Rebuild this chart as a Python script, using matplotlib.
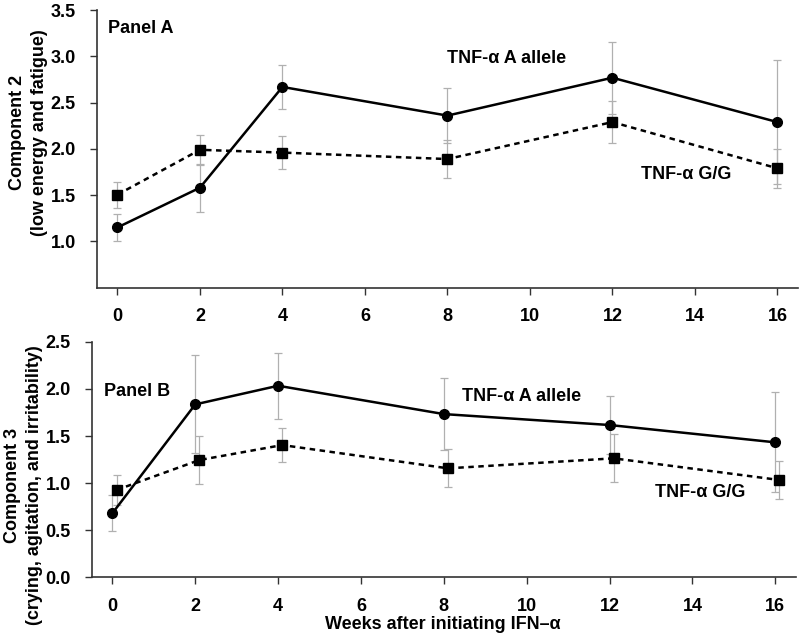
import matplotlib
matplotlib.use("Agg")
import matplotlib.pyplot as plt
import numpy as np

plt.rcParams['font.family'] = ['Liberation Sans', 'DejaVu Sans']
plt.rcParams['font.weight'] = 'bold'

weeks = [0, 2, 4, 8, 12, 16]
xticks = [0, 2, 4, 6, 8, 10, 12, 14, 16]

# Panel A: Component 2 (low energy and fatigue)
a_allele_A = [1.15, 1.58, 2.67, 2.36, 2.77, 2.29]
a_allele_A_err = [0.15, 0.26, 0.235, 0.30, 0.39, 0.67]
gg_A = [1.505, 1.99, 1.96, 1.89, 2.29, 1.79]
gg_A_err = [0.14, 0.16, 0.18, 0.21, 0.23, 0.21]

# Panel B: Component 3 (crying, agitation, and irritability)
a_allele_B = [0.68, 1.836, 2.034, 1.733, 1.617, 1.433]
a_allele_B_err = [0.19, 0.52, 0.35, 0.38, 0.31, 0.53]
gg_B = [0.927, 1.245, 1.404, 1.157, 1.263, 1.033]
gg_B_err = [0.155, 0.25, 0.18, 0.20, 0.255, 0.205]

fig = plt.figure(figsize=(8.0, 6.39), dpi=100)
axA = fig.add_axes([0.121, 0.550, 0.8765, 0.434])
axB = fig.add_axes([0.1146, 0.0966, 0.8804, 0.3684])

spine_col = '#333333'
err_col = '#b0b0b0'

def style(ax, ylim, yticks):
    ax.set_xlim(-0.5, 16.5)
    ax.set_ylim(*ylim)
    ax.set_xticks(xticks)
    ax.set_yticks(yticks)
    ax.set_yticklabels([f"{v:.1f}" for v in yticks])
    for s in ['top', 'right']:
        ax.spines[s].set_visible(False)
    for s in ['left', 'bottom']:
        ax.spines[s].set_color(spine_col)
        ax.spines[s].set_linewidth(1.2)
    ax.tick_params(axis='both', direction='out', length=5, width=1.0,
                   colors=spine_col, labelcolor='black', labelsize=13, pad=10)
    for lab in ax.get_xticklabels() + ax.get_yticklabels():
        lab.set_fontweight('bold')

def draw(ax, xs_c, yc, ec, xs_s, ys, es):
    ax.errorbar(xs_c, yc, yerr=ec, fmt='none', ecolor=err_col, elinewidth=0.9,
                capsize=3, capthick=0.9, zorder=1)
    ax.errorbar(xs_s, ys, yerr=es, fmt='none', ecolor=err_col, elinewidth=0.9,
                capsize=3, capthick=0.9, zorder=1)
    ax.plot(xs_c, yc, '-', color='black', lw=1.8, marker='o', ms=7, zorder=3)
    ax.plot(xs_s, ys, color='black', lw=1.8, linestyle=(0, (2.2, 1.8)),
            marker='s', ms=7, zorder=3)

wk = np.array(weeks, dtype=float)
draw(axA, wk, a_allele_A, a_allele_A_err, wk, gg_A, gg_A_err)
draw(axB, wk, a_allele_B, a_allele_B_err, wk + 0.1, gg_B, gg_B_err)

style(axA, (0.5, 3.5), [1.0, 1.5, 2.0, 2.5, 3.0, 3.5])
style(axB, (0.0, 2.5), [0.0, 0.5, 1.0, 1.5, 2.0, 2.5])

tkw = dict(fontsize=13, fontweight='bold', va='center', ha='left')
axA.text(-0.23, 3.30, 'Panel A', **tkw)
axA.text(8.0, 2.98, 'TNF-α A allele', **tkw)
axA.text(12.69, 1.72, 'TNF-α G/G', **tkw)
axB.text(-0.21, 1.97, 'Panel B', **tkw)
axB.text(8.43, 1.925, 'TNF-α A allele', **tkw)
axB.text(13.09, 0.90, 'TNF-α G/G', **tkw)

fig.text(0.0356, 0.793, 'Component 2\n(low energy and fatigue)', rotation=90,
         ha='center', va='center', fontsize=13, fontweight='bold', linespacing=1.4)
fig.text(0.0294, 0.241, 'Component 3\n(crying, agitation, and irritability)', rotation=90,
         ha='center', va='center', fontsize=13, fontweight='bold', linespacing=1.4)
fig.text(0.553, 0.022, 'Weeks after initiating IFN–α', ha='center', va='center',
         fontsize=13, fontweight='bold')

fig.savefig('out.png', dpi=100)
